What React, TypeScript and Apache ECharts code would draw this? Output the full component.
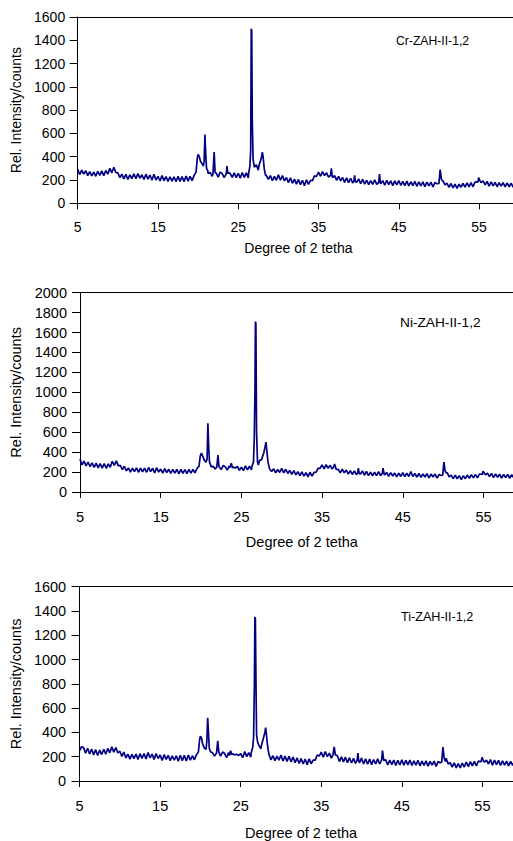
import React, { useEffect, useRef } from "react";
import * as echarts from "echarts";

// ---------- DATA ----------
const X_START = 5;
const X_STEP = 0.25;

const xTickLabels = ["5", "15", "25", "35", "45", "55"];
const panelNames = ["Cr-ZAH-II-1,2", "Ni-ZAH-II-1,2", "Ti-ZAH-II-1,2"];
const yMaxes = [1600, 2000, 1600];

// background readings every 0.25 degree from 5 to 60 (4 per degree)
const crBackground = [
  295, 245, 285, 250, 280, 238, 272, 235, 268, 232, 275, 240, 278, 238, 282, 250,
  300, 262, 310, 265, 262, 220, 250, 210, 248, 205, 245, 212, 252, 212, 255, 215,
  245, 205, 250, 208, 242, 198, 250, 200, 232, 192, 238, 195, 230, 188, 228, 190,
  228, 185, 232, 188, 230, 186, 235, 190, 232, 195, 240, 270, 400, 370, 340, 320,
  300, 255, 265, 232, 260, 262, 225, 268, 255, 220, 262, 265, 255, 222, 262, 220,
  258, 215, 265, 222, 262, 218, 275, 400, 300, 330, 285, 340, 420, 290, 240, 205,
  238, 195, 232, 198, 245, 198, 238, 192, 222, 178, 218, 172, 208, 165, 205, 160,
  198, 150, 202, 162, 198, 195, 235, 230, 268, 232, 272, 238, 262, 225, 268, 220,
  238, 198, 232, 192, 222, 180, 218, 178, 215, 175, 212, 180, 210, 168, 205, 165,
  198, 160, 195, 162, 202, 162, 205, 168, 195, 155, 198, 160, 192, 152, 192, 158,
  195, 155, 188, 152, 190, 150, 185, 152, 188, 146, 184, 150, 185, 142, 182, 150,
  182, 140, 178, 168, 185, 230, 195, 158, 172, 138, 170, 132, 165, 128, 164, 138,
  172, 138, 175, 142, 178, 142, 182, 185, 215, 178, 192, 158, 188, 148, 184, 150,
  180, 142, 178, 148, 178, 140, 175, 142, 172, 138, 168, 140, 155,
];

const crPeaks: [number, number][][] = [
  [[19.75, 270], [19.9, 390], [20.0, 420], [20.15, 400], [20.3, 360], [20.5, 340], [20.65, 320], [20.75, 360], [20.85, 590], [20.95, 420], [21.05, 300], [21.2, 280]],
  [[21.85, 250], [22.0, 440], [22.12, 260]],
  [[23.5, 250], [23.6, 320], [23.7, 255]],
  [[26.3, 260], [26.45, 320], [26.55, 450], [26.62, 1500], [26.68, 1480], [26.75, 700], [26.85, 380], [27.0, 310]],
  [[27.6, 330], [27.85, 380], [28.0, 440], [28.1, 400], [28.25, 290], [28.4, 240]],
  [[36.5, 240], [36.6, 300], [36.7, 235]],
  [[39.4, 190], [39.5, 240], [39.6, 185]],
  [[42.5, 180], [42.6, 250], [42.7, 175]],
  [[50.0, 170], [50.15, 290], [50.3, 210], [50.45, 190]],
  [[54.85, 180], [54.95, 220], [55.1, 195]],
];

const niBackground = [
  330, 272, 310, 262, 300, 255, 292, 248, 290, 242, 284, 240, 285, 238, 282, 248,
  308, 268, 312, 262, 268, 225, 258, 212, 242, 200, 240, 205, 242, 198, 240, 202,
  240, 198, 246, 205, 238, 192, 244, 200, 230, 190, 234, 194, 228, 186, 226, 190,
  226, 182, 228, 186, 224, 184, 226, 190, 226, 192, 236, 260, 380, 350, 320, 300,
  290, 252, 258, 230, 262, 258, 225, 268, 252, 220, 262, 272, 250, 240, 258, 218,
  250, 214, 262, 222, 258, 222, 278, 500, 290, 315, 325, 380, 500, 300, 240, 205,
  232, 192, 226, 196, 238, 192, 228, 186, 218, 176, 214, 172, 205, 164, 202, 160,
  195, 152, 198, 160, 196, 198, 238, 238, 272, 232, 275, 238, 268, 230, 272, 226,
  228, 192, 230, 192, 220, 180, 215, 176, 212, 174, 212, 180, 212, 168, 208, 164,
  200, 162, 198, 164, 204, 164, 208, 172, 196, 156, 194, 160, 190, 152, 190, 156,
  194, 154, 188, 156, 206, 156, 186, 150, 186, 146, 182, 150, 184, 142, 180, 150,
  180, 140, 176, 165, 190, 290, 195, 152, 170, 134, 168, 132, 164, 124, 162, 134,
  170, 138, 174, 142, 176, 142, 180, 178, 210, 172, 188, 154, 186, 144, 182, 148,
  178, 140, 176, 145, 176, 138, 174, 142, 172, 134, 168, 140, 152,
];

const niPeaks: [number, number][][] = [
  [[19.75, 260], [19.9, 360], [20.05, 390], [20.2, 360], [20.4, 320], [20.6, 300], [20.75, 330], [20.85, 690], [20.95, 450], [21.05, 300], [21.2, 270]],
  [[21.95, 250], [22.1, 370], [22.22, 255]],
  [[23.6, 245], [23.75, 290], [23.9, 240]],
  [[26.3, 255], [26.5, 300], [26.6, 550], [26.68, 1000], [26.74, 1710], [26.8, 1690], [26.88, 600], [27.0, 300], [27.1, 270]],
  [[27.55, 330], [27.8, 400], [27.95, 460], [28.05, 500], [28.15, 420], [28.3, 300], [28.5, 230]],
  [[36.4, 245], [36.55, 280], [36.7, 240]],
  [[39.4, 190], [39.5, 240], [39.6, 185]],
  [[42.45, 185], [42.55, 240], [42.7, 180]],
  [[49.95, 170], [50.1, 300], [50.25, 210], [50.4, 190]],
  [[54.85, 175], [54.95, 210], [55.1, 190]],
];

const tiBackground = [
  250, 282, 275, 228, 270, 222, 262, 215, 258, 210, 254, 218, 262, 220, 268, 232,
  282, 238, 276, 232, 245, 202, 238, 190, 222, 180, 220, 185, 222, 178, 225, 186,
  226, 182, 234, 190, 222, 178, 226, 185, 214, 170, 218, 178, 212, 168, 208, 172,
  208, 162, 212, 168, 212, 165, 214, 172, 208, 175, 215, 240, 360, 300, 270, 250,
  250, 218, 232, 205, 230, 245, 205, 238, 228, 192, 235, 240, 225, 215, 220, 210,
  226, 192, 242, 200, 234, 196, 255, 350, 300, 295, 265, 330, 440, 280, 212, 175,
  208, 168, 204, 172, 214, 165, 206, 162, 204, 158, 198, 150, 190, 145, 184, 140,
  180, 135, 182, 142, 172, 172, 214, 205, 238, 196, 242, 200, 230, 188, 234, 190,
  208, 160, 200, 158, 196, 150, 192, 148, 186, 145, 184, 150, 190, 140, 182, 138,
  180, 135, 176, 140, 182, 140, 186, 148, 174, 132, 172, 135, 172, 128, 170, 132,
  175, 130, 170, 132, 172, 128, 166, 130, 170, 125, 164, 128, 166, 122, 162, 130,
  164, 120, 160, 150, 180, 275, 188, 140, 152, 115, 150, 108, 144, 108, 148, 115,
  156, 118, 160, 125, 162, 125, 164, 160, 195, 155, 172, 140, 176, 130, 172, 135,
  170, 128, 166, 130, 164, 125, 162, 128, 162, 120, 158, 128, 140,
];

const tiPeaks: [number, number][][] = [
  [[19.75, 240], [19.9, 340], [20.0, 370], [20.15, 350], [20.3, 300], [20.5, 270], [20.7, 260], [20.8, 330], [20.9, 520], [21.0, 400], [21.1, 270], [21.25, 240]],
  [[22.0, 230], [22.15, 330], [22.28, 240]],
  [[23.6, 210], [23.75, 250], [23.9, 215]],
  [[26.3, 230], [26.5, 280], [26.6, 360], [26.7, 800], [26.76, 1350], [26.82, 1340], [26.9, 800], [26.97, 380], [27.1, 320]],
  [[27.6, 300], [27.85, 360], [28.0, 400], [28.1, 440], [28.2, 380], [28.35, 280], [28.5, 220]],
  [[36.45, 215], [36.6, 280], [36.75, 215]],
  [[39.45, 170], [39.55, 230], [39.65, 165]],
  [[42.5, 175], [42.6, 250], [42.75, 170]],
  [[49.95, 155], [50.1, 280], [50.25, 190], [50.4, 160]],
  [[54.85, 160], [54.95, 195], [55.1, 170]],
];

// ---------- BUILD ----------
function buildSeries(bg: number[], peaks: [number, number][][]) {
  const pts: [number, number][] = [];
  bg.forEach((y, i) => {
    const x = X_START + i * X_STEP;
    if (peaks.some((p) => x >= p[0][0] && x <= p[p.length - 1][0])) return;
    pts.push([x, y]);
  });
  peaks.forEach((p) => p.forEach((pt) => pts.push(pt)));
  pts.sort((a, b) => a[0] - b[0]);
  return pts;
}

const seriesData = [
  buildSeries(crBackground, crPeaks),
  buildSeries(niBackground, niPeaks),
  buildSeries(tiBackground, tiPeaks),
];

const layout = [
  { left: 77.7, top: 17, height: 186.3, width: 441.5, font: 14, labelMargin: 12.5, xLabelMargin: 16.5, yNameGap: 51, xNameGap: 38, note: { x: 396, y: 42, size: 12.2 } },
  { left: 80, top: 292.7, height: 199.3, width: 443.8, font: 14.5, labelMargin: 13, xLabelMargin: 17, yNameGap: 53, xNameGap: 42, note: { x: 400, y: 324, size: 13.7 } },
  { left: 76.7, top: 586.7, height: 198.3, width: 446, font: 14.5, labelMargin: 13.4, xLabelMargin: 17.5, yNameGap: 53, xNameGap: 44, note: { x: 401, y: 618, size: 12.6 } },
];

const LINE_COLOR = "#000080";
const FONT = "'Liberation Sans', Arial, sans-serif";

export default function App() {
  const ref = useRef<HTMLDivElement>(null);
  useEffect(() => {
    if (!ref.current) return;
    const chart = echarts.init(ref.current, undefined, { renderer: "svg" });
    const grid: any[] = [];
    const xAxis: any[] = [];
    const yAxis: any[] = [];
    const series: any[] = [];
    const graphic: any[] = [];
    layout.forEach((l, i) => {
      grid.push({ left: l.left, top: l.top, width: l.width, height: l.height });
      xAxis.push({
        type: "value",
        gridIndex: i,
        min: 5,
        max: 60,
        interval: 10,
        name: "Degree of 2 tetha",
        nameLocation: "middle",
        nameGap: l.xNameGap,
        nameTextStyle: { fontSize: l.font, color: "#000", fontFamily: FONT },
        axisLine: { show: true, lineStyle: { color: "#000", width: 1 } },
        axisTick: { show: true, length: 6, lineStyle: { color: "#000" } },
        axisLabel: {
          fontSize: l.font,
          color: "#000",
          fontFamily: FONT,
          margin: l.xLabelMargin,
          showMaxLabel: false,
          formatter: (v: number) => (xTickLabels.includes(String(v)) ? String(v) : ""),
        },
        splitLine: { show: false },
      });
      xAxis.push({
        type: "value",
        gridIndex: i,
        position: "top",
        min: 5,
        max: 60,
        axisLine: { show: true, lineStyle: { color: "#000", width: 1 } },
        axisTick: { show: false },
        axisLabel: { show: false },
        splitLine: { show: false },
      });
      yAxis.push({
        type: "value",
        gridIndex: i,
        min: 0,
        max: yMaxes[i],
        interval: 200,
        name: "Rel. Intensity/counts",
        nameLocation: "middle",
        nameGap: l.yNameGap,
        nameTextStyle: { fontSize: l.font, color: "#000", fontFamily: FONT },
        axisLine: { show: true, lineStyle: { color: "#000", width: 1 } },
        axisTick: { show: true, length: 8, lineStyle: { color: "#000" } },
        axisLabel: {
          fontSize: l.font,
          color: "#000",
          fontFamily: FONT,
          margin: l.labelMargin,
          formatter: (v: number) => String(v),
        },
        splitLine: { show: false },
      });
      series.push({
        type: "line",
        xAxisIndex: i * 2,
        yAxisIndex: i,
        data: seriesData[i],
        showSymbol: false,
        symbol: "none",
        lineStyle: { color: LINE_COLOR, width: 1.7 },
        clip: true,
      });
      graphic.push({
        type: "text",
        left: l.note.x,
        top: l.note.y - l.note.size * 0.6,
        style: { text: panelNames[i], fontSize: l.note.size, fill: "#000", fontFamily: FONT },
      });
    });
    chart.setOption({ animation: false, backgroundColor: "#fff", grid, xAxis, yAxis, series, graphic });
    return () => chart.dispose();
  }, []);
  return (
    <div style={{ position: "fixed", left: 0, top: 0, width: 513, height: 841, overflow: "hidden", background: "#fff" }}>
      <div ref={ref} style={{ width: 540, height: 841 }} />
    </div>
  );
}
